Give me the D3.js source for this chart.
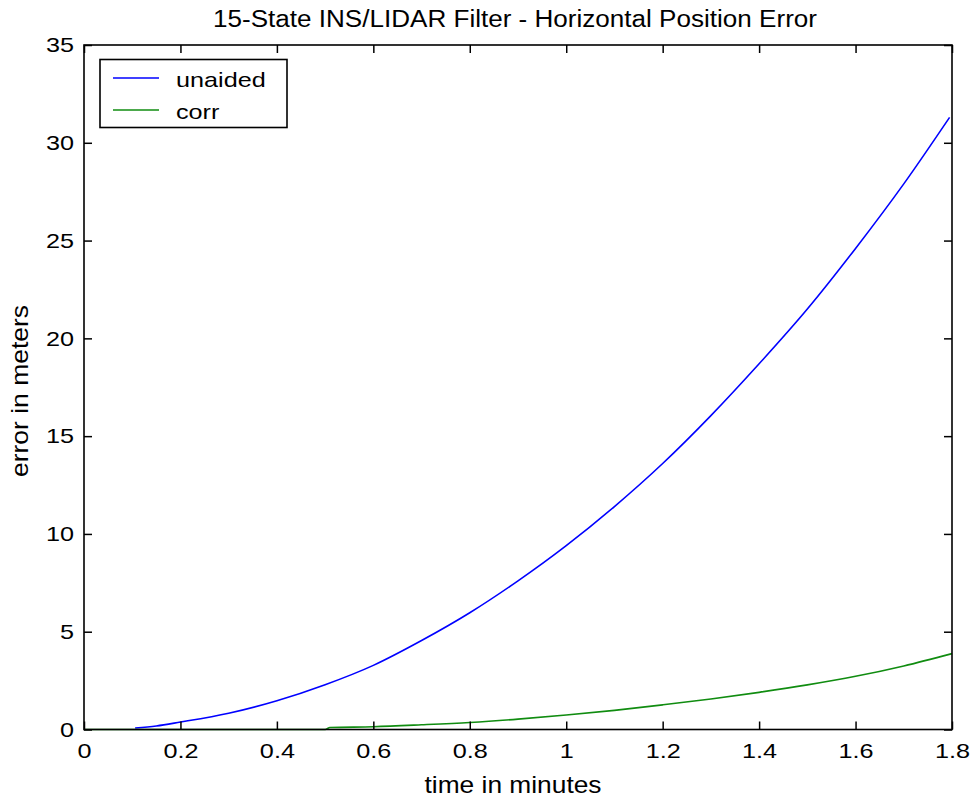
<!DOCTYPE html>
<html>
<head>
<meta charset="utf-8">
<script src="https://cdn.jsdelivr.net/npm/d3@7"></script>
<style>
  html, body { margin: 0; padding: 0; background: #fff; }
  svg { display: block; font-family: "Liberation Sans", Arial, Helvetica, sans-serif; }
</style>
</head>
<body>
<svg id="chart" width="973" height="802"></svg>
<script>
// ---- data ----
const titleText = "15-State INS/LIDAR Filter - Horizontal Position Error";
const xLabel = "time in minutes";
const yLabel = "error in meters";
const xTicks = [0, 0.2, 0.4, 0.6, 0.8, 1, 1.2, 1.4, 1.6, 1.8];
const yTicks = [0, 5, 10, 15, 20, 25, 30, 35];
const seriesNames = ["unaided", "corr"];
const seriesColors = ["#0000ff", "#108c10"];

const unaidedT = [0.106, 0.15, 0.2, 0.3, 0.4, 0.5, 0.6, 0.7, 0.8, 0.9, 1.0, 1.1, 1.2, 1.3, 1.4, 1.5, 1.6, 1.7, 1.795];
const unaidedV = [0.08, 0.18, 0.38, 0.83, 1.47, 2.29, 3.28, 4.55, 5.97, 7.6, 9.4, 11.4, 13.6, 16.05, 18.7, 21.5, 24.6, 27.9, 31.3];

const corrT = [0, 0.5, 0.51, 0.6, 0.7, 0.8, 0.9, 1.0, 1.1, 1.2, 1.3, 1.4, 1.5, 1.6, 1.7, 1.8];
const corrV = [0, 0, 0.1, 0.14, 0.24, 0.36, 0.53, 0.74, 0.98, 1.26, 1.56, 1.90, 2.28, 2.72, 3.25, 3.88];

// ---- layout ----
const svg = d3.select("#chart");
const mLeft = 84, mRight = 952, mTop = 45, mBottom = 729.5;
const x = d3.scaleLinear().domain([0, 1.8]).range([mLeft, mRight]);
const y = d3.scaleLinear().domain([0, 35]).range([mBottom, mTop]);
const fontSize = 21;
const tickLen = 8;
const widen = 1.2;

function stretch(sel, factor) {
  sel.each(function () {
    const w = this.getComputedTextLength();
    if (w > 0) d3.select(this).attr("textLength", w * factor).attr("lengthAdjust", "spacingAndGlyphs");
  });
}

// lines
const series = [
  { name: seriesNames[0], color: seriesColors[0], pts: unaidedT.map((t, i) => [t, unaidedV[i]]) },
  { name: seriesNames[1], color: seriesColors[1], pts: corrT.map((t, i) => [t, corrV[i]]) }
];
const line = d3.line().x(d => x(d[0])).y(d => y(d[1])).curve(d3.curveMonotoneX);
svg.append("g").selectAll("path").data(series).join("path")
  .attr("d", d => line(d.pts))
  .attr("fill", "none")
  .attr("stroke", d => d.color)
  .attr("stroke-width", 1.6);

// axes (ticks inward, mirrored)
const axisStyle = g => {
  g.select(".domain").remove();
  g.selectAll(".tick line").attr("stroke", "#000").attr("stroke-width", 1.5);
  g.selectAll("text").attr("fill", "#000").style("font-size", fontSize + "px").style("font-family", "'Liberation Sans', Arial, sans-serif");
  stretch(g.selectAll("text"), widen);
};
svg.append("g").attr("transform", `translate(0,${mBottom})`)
  .call(d3.axisBottom(x).tickValues(xTicks).tickFormat(d3.format("")).tickSizeInner(-tickLen).tickSizeOuter(0).tickPadding(14))
  .call(axisStyle);
svg.append("g").attr("transform", `translate(0,${mTop})`)
  .call(d3.axisTop(x).tickValues(xTicks).tickFormat("").tickSizeInner(-tickLen).tickSizeOuter(0))
  .call(axisStyle);
svg.append("g").attr("transform", `translate(${mLeft},0)`)
  .call(d3.axisLeft(y).tickValues(yTicks).tickFormat(d3.format("")).tickSizeInner(-tickLen).tickSizeOuter(0).tickPadding(10))
  .call(axisStyle);
svg.append("g").attr("transform", `translate(${mRight},0)`)
  .call(d3.axisRight(y).tickValues(yTicks).tickFormat("").tickSizeInner(-tickLen).tickSizeOuter(0))
  .call(axisStyle);

// frame
svg.append("rect")
  .attr("x", mLeft).attr("y", mTop)
  .attr("width", mRight - mLeft).attr("height", mBottom - mTop)
  .attr("fill", "none").attr("stroke", "#000").attr("stroke-width", 1.6);

// title and labels
svg.append("text").attr("x", 515).attr("y", 27)
  .attr("text-anchor", "middle").style("font-size", "23px")
  .attr("textLength", 604).attr("lengthAdjust", "spacingAndGlyphs").text(titleText);
svg.append("text").attr("x", 513).attr("y", 793)
  .attr("text-anchor", "middle").style("font-size", "24px")
  .attr("textLength", 177).attr("lengthAdjust", "spacingAndGlyphs").text(xLabel);
svg.append("text").attr("transform", `translate(28,391) rotate(-90)`)
  .attr("text-anchor", "middle").style("font-size", "24px")
  .attr("textLength", 172).attr("lengthAdjust", "spacingAndGlyphs").text(yLabel);

// legend
const lg = svg.append("g");
lg.append("rect").attr("x", 100).attr("y", 59.5).attr("width", 187).attr("height", 68)
  .attr("fill", "#fff").attr("stroke", "#000").attr("stroke-width", 1.6);
const rowY = [78, 110];
series.forEach((s, i) => {
  lg.append("line").attr("x1", 113).attr("x2", 159).attr("y1", rowY[i]).attr("y2", rowY[i])
    .attr("stroke", s.color).attr("stroke-width", 1.6);
  const t = lg.append("text").attr("x", 176).attr("y", rowY[i] + 9)
    .style("font-size", fontSize + "px").text(s.name);
  stretch(t, widen);
});
</script>
</body>
</html>
